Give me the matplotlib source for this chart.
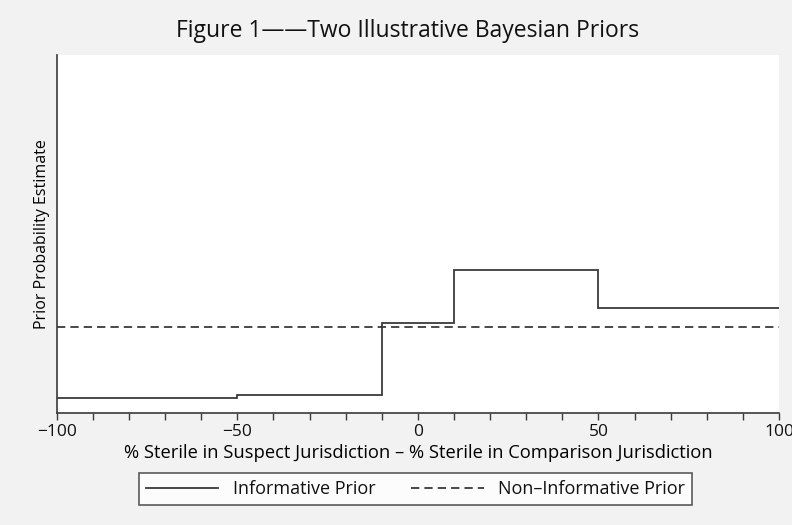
import matplotlib
matplotlib.use("Agg")
import matplotlib.pyplot as plt
from matplotlib.ticker import MultipleLocator

# step edges and heights of the informative prior
edges = [-100, -50, -10, 10, 50, 100]
informative = [0.042, 0.049, 0.25, 0.399, 0.292]
# flat non-informative prior
flat_x = [-100, 100]
flat_y = [0.239, 0.239]

plt.rcParams['font.family'] = ['Open Sans', 'DejaVu Sans']
plt.rcParams['text.color'] = "#111111"
bg = "#f2f2f2"
ink = "#3a3a3a"

fig = plt.figure(figsize=(7.92, 5.25), dpi=100, facecolor=bg)
ax = fig.add_axes([0.0716, 0.2139, 0.912, 0.6813])
ax.set_facecolor("white")

ax.stairs(informative, edges, baseline=None, color=ink, lw=1.3,
          label="Informative Prior")
ax.plot(flat_x, flat_y, color=ink, lw=1.3, linestyle=(0, (4.6, 2.8)),
        label="Non\u2013Informative Prior")

ax.set_xlim(-100, 100)
ax.set_ylim(0, 1)
for s in ["top", "right"]:
    ax.spines[s].set_visible(False)
for s in ["left", "bottom"]:
    ax.spines[s].set_color(ink)
    ax.spines[s].set_linewidth(1.2)

ax.xaxis.set_major_locator(MultipleLocator(50))
ax.xaxis.set_minor_locator(MultipleLocator(10))
ax.set_xticks([-100, -50, 0, 50, 100])
ax.set_xticklabels(["\u2212100", "\u221250", "0", "50", "100"])
ax.tick_params(axis="x", which="both", direction="out", length=5, width=1.0,
               color=ink, labelsize=12.5, pad=3, labelcolor="#111111")
ax.set_yticks([])

ax.set_xlabel("% Sterile in Suspect Jurisdiction \u2013 % Sterile in Comparison Jurisdiction",
              fontsize=13.2, labelpad=3)
ax.set_ylabel("Prior Probability Estimate", fontsize=11.5, labelpad=5)

fig.text(0.5145, 0.941, "Figure 1\u2014\u2014Two Illustrative Bayesian Priors",
         ha="center", va="center", fontsize=16.5)

leg = fig.legend(loc="center", bbox_to_anchor=(0.5246, 0.0686), ncol=2,
                 fontsize=13, handlelength=4.0, columnspacing=2.0,
                 frameon=True, fancybox=False, borderpad=0.4)
leg.get_frame().set_edgecolor("#333333")
leg.get_frame().set_linewidth(1.2)
leg.get_frame().set_facecolor("white")

fig.savefig("out.png", dpi=100, facecolor=bg)
